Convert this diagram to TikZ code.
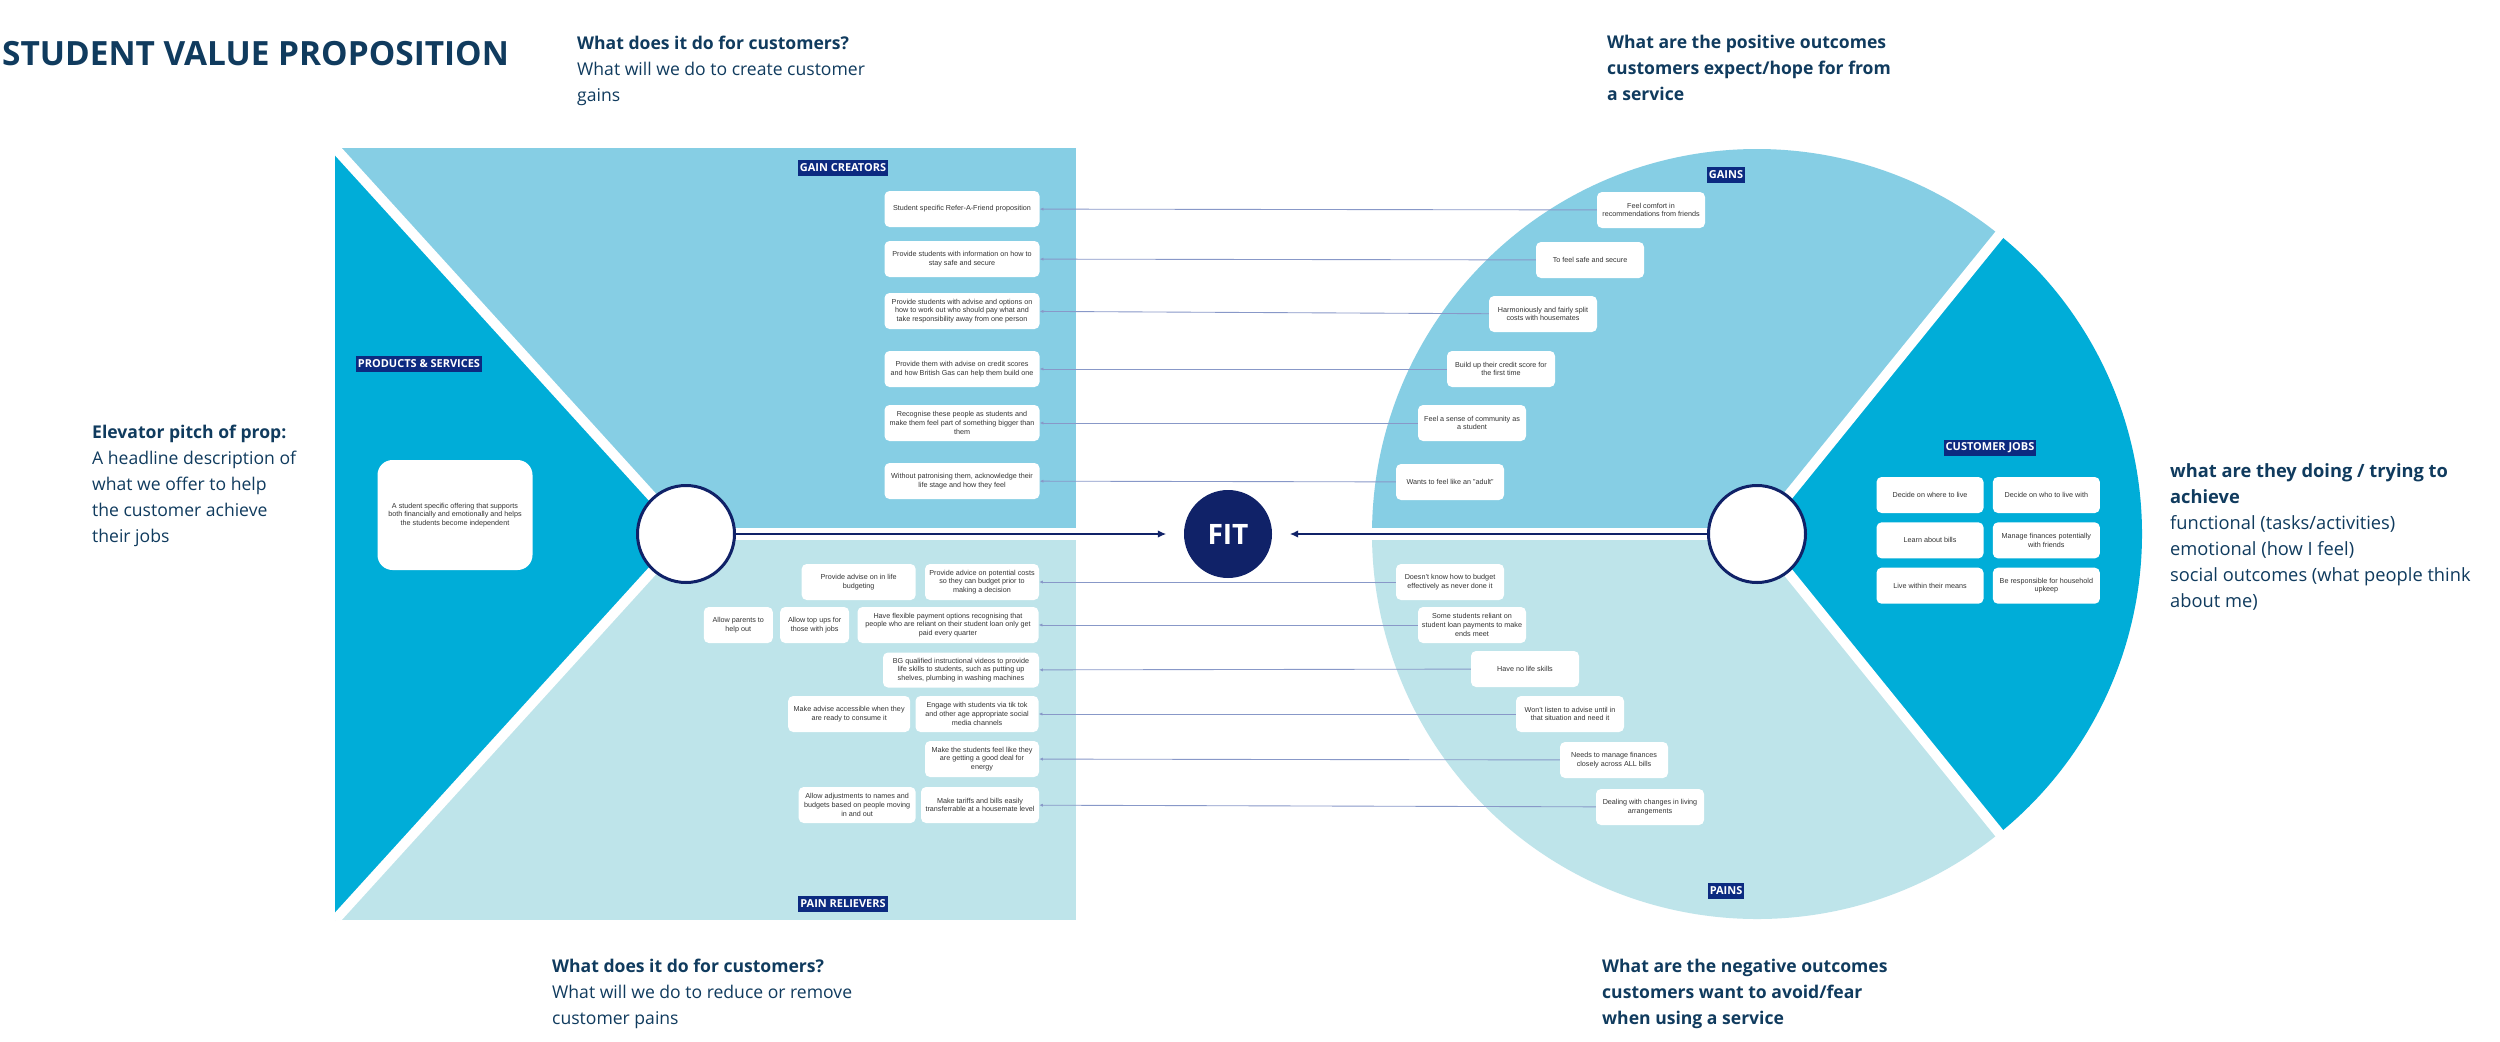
\documentclass[tikz,border=0pt]{standalone}
\usepackage{fontspec}
\setmainfont{Liberation Sans}
\newfontfamily\opensans{Open Sans}
\usetikzlibrary{arrows.meta,positioning}
\definecolor{deep}{RGB}{0,173,216}
\definecolor{gainsky}{RGB}{134,206,228}
\definecolor{painsky}{RGB}{190,228,234}
\definecolor{navy}{RGB}{16,34,104}
\definecolor{tagnavy}{RGB}{12,42,128}
\definecolor{ink}{RGB}{16,59,94}
\definecolor{wirecol}{RGB}{136,152,200}

\begin{document}
\begin{tikzpicture}[x=0.4mm,y=-0.4mm,>=Latex,node distance=3.6mm and 3.6mm,
  card/.style={fill=white,rounded corners=2mm,align=center,inner sep=0.6mm,minimum height=14.4mm,text=black!80,font=\fontsize{8.2}{9.9}\selectfont},
  tag/.style={fill=tagnavy,text=white,inner xsep=0.8mm,inner ysep=0mm,minimum height=6.4mm,font=\opensans\bfseries\fontsize{12.5}{13}\selectfont},
  note/.style={anchor=north west,align=left,inner sep=0pt,text=ink,font=\opensans\fontsize{20}{29.6}\selectfont},
  hub/.style={circle,fill=white,draw=navy,line width=1.2mm,minimum size=38.8mm},
  wire/.style={draw=wirecol,line width=0.35mm,-{Latex[length=1.5mm,width=1.3mm]}},
  fitwire/.style={draw=navy,line width=0.8mm,-{Latex[length=3.4mm,width=3mm]},shorten >=7mm}]
\useasboundingbox (0,0) rectangle (2500,1041);
\fill[white] (0,0) rectangle (2500,1041);

\fill[gainsky] (335,148) rectangle (1076,528);
\fill[painsky] (335,540) rectangle (1076,920);
\fill[deep] (335,148) -- (686,534) -- (335,920) -- cycle;
\draw[white,line width=4mm] (335,148) -- (686,534) -- (335,920);
\fill[gainsky] (1757,534) -- ++(180:385) arc[start angle=180,end angle=309,radius=385] -- cycle;
\fill[deep] (1757,534) -- ++(-51:385) arc[start angle=-51,end angle=51,radius=385] -- cycle;
\fill[painsky] (1757,534) -- ++(51:385) arc[start angle=51,end angle=180,radius=385] -- cycle;
\draw[white,line width=4mm] (1757,534) -- ++(-51:400) (1757,534) -- ++(51:400);
\fill[white] (1360,528) rectangle (1757,540);

\node[font=\opensans\bfseries\fontsize{38}{40}\selectfont,text=ink,anchor=base west,inner sep=0pt] (title) at (2,65) {STUDENT VALUE PROPOSITION};
\node[note] (qCreate) at (577,36) {\textbf{What does it do for customers?}\\What will we do to create customer\\gains};
\node[note] (qGains) at (1607,35) {\textbf{What are the positive outcomes}\\\textbf{customers expect/hope for from}\\\textbf{a service}};
\node[note] (qPitch) at (92,425) {\textbf{Elevator pitch of prop:}\\A headline description of\\what we offer to help\\the customer achieve\\their jobs};
\node[note,font=\opensans\fontsize{20.8}{29.6}\selectfont] (qJobs) at (2170,463) {\textbf{what are they doing / trying to}\\\textbf{achieve}\\functional (tasks/activities)\\emotional (how I feel)\\social outcomes (what people think\\about me)};
\node[note] (qRelieve) at (552,959) {\textbf{What does it do for customers?}\\What will we do to reduce or remove\\customer pains};
\node[note] (qPains) at (1602,959) {\textbf{What are the negative outcomes}\\\textbf{customers want to avoid/fear}\\\textbf{when using a service}};

\node[tag] (tGC) at (843,168) {GAIN CREATORS};
\node[tag] (tPS) at (419,364) {PRODUCTS \& SERVICES};
\node[tag] (tPR) at (843,904) {PAIN RELIEVERS};
\node[tag] (tG) at (1726,175) {GAINS};
\node[tag] (tCJ) at (1990,448) {CUSTOMER JOBS};
\node[tag] (tP) at (1726,891) {PAINS};

\node[card,minimum width=62mm,minimum height=44mm,rounded corners=6mm] (ps) at (455,515) {A student specific offering that supports\\both financially and emotionally and helps\\the students become independent};

\node[card,minimum width=62mm] (gc1) at (962,209) {Student specific Refer-A-Friend proposition};
\node[card,minimum width=62mm] (gc2) at (962,259) {Provide students with information on how to\\stay safe and secure};
\node[card,minimum width=62mm] (gc3) at (962,311) {Provide students with advise and options on\\how to work out who should pay what and\\take responsibility away from one person};
\node[card,minimum width=62mm] (gc4) at (962,369) {Provide them with advise on credit scores\\and how British Gas can help them build one};
\node[card,minimum width=62mm] (gc5) at (962,423) {Recognise these people as students and\\make them feel part of something bigger than\\them};
\node[card,minimum width=62mm] (gc6) at (962,481) {Without patronising them, acknowledge their\\life stage and how they feel};

\node[card,minimum width=43.2mm] (g1) at (1651,210) {Feel comfort in\\recommendations from friends};
\node[card,minimum width=43.2mm] (g2) at (1590,260) {To feel safe and secure};
\node[card,minimum width=43.2mm] (g3) at (1543,314) {Harmoniously and fairly split\\costs with housemates};
\node[card,minimum width=43.2mm] (g4) at (1501,369) {Build up their credit score for\\the first time};
\node[card,minimum width=43.2mm] (g5) at (1472,423) {Feel a sense of community as\\a student};
\node[card,minimum width=43.2mm] (g6) at (1450,482) {Wants to feel like an "adult"};

\node[card,minimum width=45.6mm] (pr1) at (982,582) {Provide advice on potential costs\\so they can budget prior to\\making a decision};
\node[card,minimum width=45.6mm,left=3.6mm of pr1] (pr1a) {Provide advise on in life\\budgeting};
\node[card,minimum width=72.4mm] (pr2) at (948,625) {Have flexible payment options recognising that\\people who are reliant on their student loan only get\\paid every quarter};
\node[card,minimum width=27.6mm,left=3.2mm of pr2] (pr2b) {Allow top ups for\\those with jobs};
\node[card,minimum width=27.6mm,left=2.8mm of pr2b] (pr2a) {Allow parents to\\help out};
\node[card,minimum width=62.4mm,minimum height=14mm] (pr3) at (961,670) {BG qualified instructional videos to provide\\life skills to students, such as putting up\\shelves, plumbing in washing machines};
\node[card,minimum width=49.2mm] (pr4) at (977,714) {Engage with students via tik tok\\and other age appropriate social\\media channels};
\node[card,minimum width=48.8mm,left=2mm of pr4] (pr4a) {Make advise accessible when they\\are ready to consume it};
\node[card,minimum width=45.6mm] (pr5) at (982,759) {Make the students feel like they\\are getting a good deal for\\energy};
\node[card,minimum width=47.2mm] (pr6) at (980,805) {Make tariffs and bills easily\\transferrable at a housemate level};
\node[card,minimum width=46.8mm,left=2mm of pr6] (pr6a) {Allow adjustments to names and\\budgets based on people moving\\in and out};

\node[card,minimum width=43.2mm] (p1) at (1450,582) {Doesn't know how to budget\\effectively as never done it};
\node[card,minimum width=43.2mm] (p2) at (1472,625) {Some students reliant on\\student loan payments to make\\ends meet};
\node[card,minimum width=43.2mm] (p3) at (1525,669) {Have no life skills};
\node[card,minimum width=43.2mm] (p4) at (1570,714) {Won't listen to advise until in\\that situation and need it};
\node[card,minimum width=43.2mm] (p5) at (1614,760) {Needs to manage finances\\closely across ALL bills};
\node[card,minimum width=43.2mm] (p6) at (1650,807) {Dealing with changes in living\\arrangements};

\node[card,minimum width=42.8mm] (cj1) at (1930,495) {Decide on where to live};
\node[card,minimum width=42.8mm,right=of cj1] (cj2) {Decide on who to live with};
\node[card,minimum width=42.8mm,below=of cj1] (cj3) {Learn about bills};
\node[card,minimum width=42.8mm,right=of cj3] (cj4) {Manage finances potentially\\with friends};
\node[card,minimum width=42.8mm,below=of cj3] (cj5) {Live within their means};
\node[card,minimum width=42.8mm,right=of cj5] (cj6) {Be responsible for household\\upkeep};

\node[hub] (hubL) at (686,534) {};
\node[hub] (hubR) at (1757,534) {};
\node[circle,fill=navy,minimum size=35.2mm,text=white,font=\opensans\bfseries\fontsize{32}{32}\selectfont] (fit) at (1228,534) {FIT};
\draw[fitwire] (hubL) -- (fit);
\draw[fitwire] (hubR) -- (fit);

\foreach \i in {1,...,6} {
  \draw[wire] (g\i) -- (gc\i);
  \draw[wire] (p\i) -- (pr\i);
}
\end{tikzpicture}
\end{document}
